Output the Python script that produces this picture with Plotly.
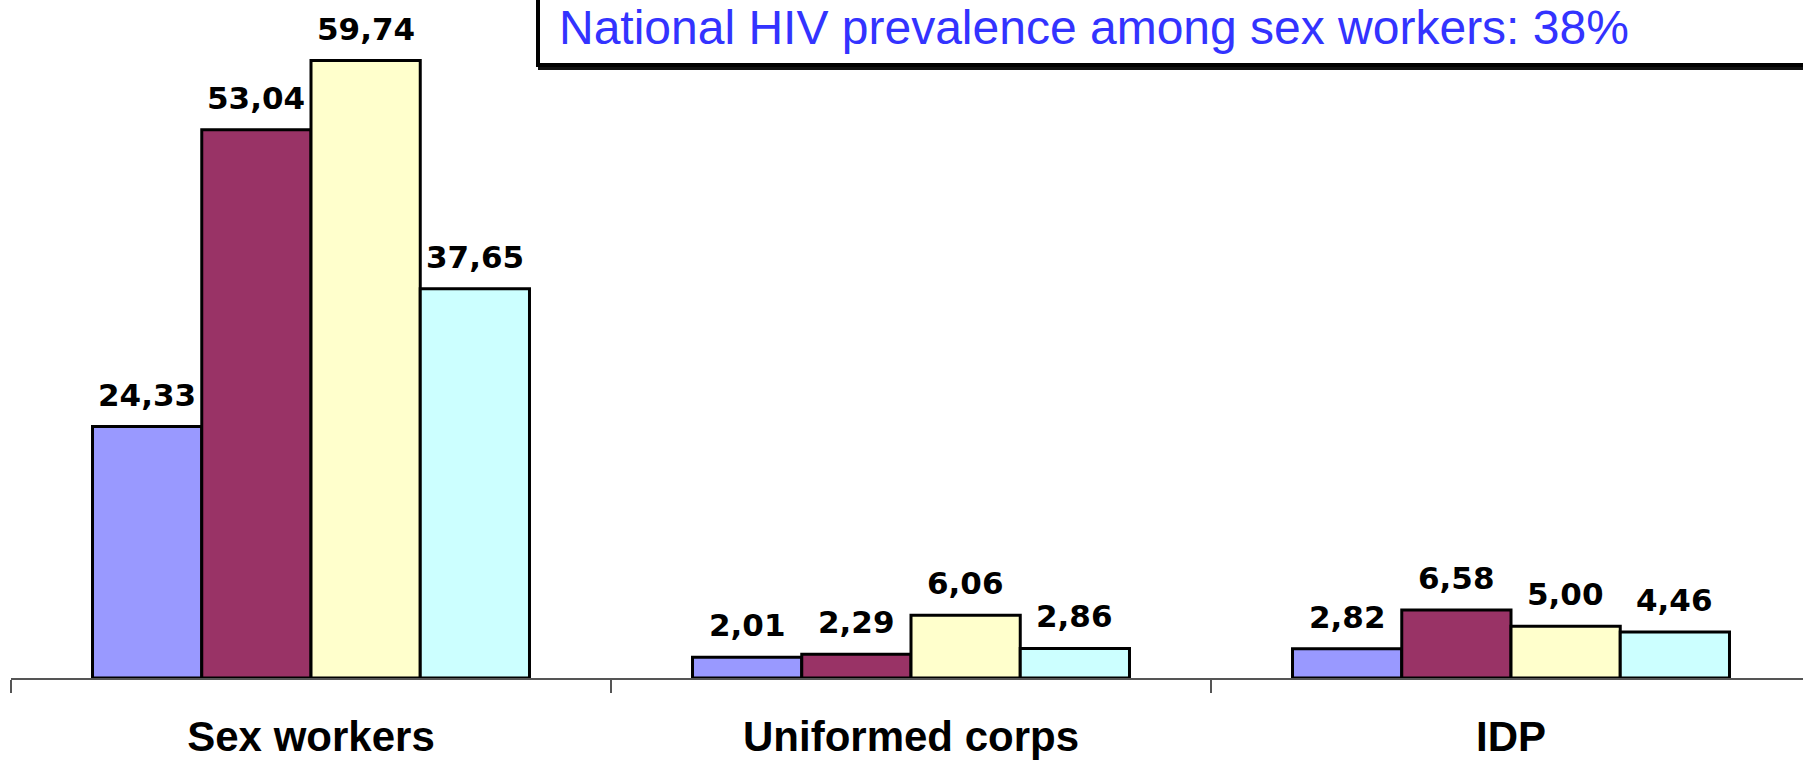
import plotly.graph_objects as go

categories = ["Sex workers", "Uniformed corps", "IDP"]
series_a = [24.33, 2.01, 2.82]
series_b = [53.04, 2.29, 6.58]
series_c = [59.74, 6.06, 5.00]
series_d = [37.65, 2.86, 4.46]
all_series = [series_a, series_b, series_c, series_d]
colors = ["#9999FF", "#993366", "#FFFFCC", "#CCFFFF"]
note_text = "National HIV prevalence among sex workers: 38%"

W, H = 1803, 764
ML, MR, MT, MB = 11, 0, 0, 86
BARGAP = 0.2717
YMAX = 65.6
cat_px = 600.0
plot_w = W - ML - MR
plot_h = H - MT - MB

fig = go.Figure()
for j, vals in enumerate(all_series):
    fig.add_trace(go.Bar(
        x=categories, y=vals,
        marker=dict(color=colors[j], line=dict(color="black", width=3)),
        showlegend=False, hoverinfo="skip",
    ))

# value labels
bw = (1 - BARGAP) / len(all_series)
annotations = []
for j, vals in enumerate(all_series):
    for i, v in enumerate(vals):
        annotations.append(dict(
            x=i + (j - (len(all_series) - 1) / 2) * bw, y=v, xref="x", yref="y",
            text=f"{v:.2f}".replace(".", ","), showarrow=False,
            yanchor="bottom", xanchor="center", yshift=12,
            font=dict(family="DejaVu Sans", size=31, color="black", weight="bold"),
        ))

# note box
def px_x(p):
    return (p - ML) / plot_w

def px_y(p):
    return (H - MB - p) / plot_h

annotations.append(dict(
    x=px_x(557), y=px_y(27.5), xref="paper", yref="paper",
    text=note_text, showarrow=False, xanchor="left", yanchor="middle",
    font=dict(family="Liberation Sans, Arial", size=48, color="#3333FF"),
))

shapes = [
    dict(type="rect", xref="paper", yref="paper",
         x0=px_x(540), x1=px_x(1900), y0=px_y(68), y1=px_y(-20),
         line=dict(color="#111111", width=4), layer="above"),
    dict(type="rect", xref="paper", yref="paper",
         x0=px_x(538), x1=px_x(1900), y0=px_y(65), y1=px_y(-20),
         line=dict(color="black", width=4), fillcolor="white", layer="above"),
]

fig.update_layout(
    width=W, height=H,
    margin=dict(l=ML, r=MR, t=MT, b=MB, autoexpand=False),
    paper_bgcolor="white", plot_bgcolor="white",
    barmode="group", bargap=BARGAP, bargroupgap=0,
    xaxis=dict(
        range=[-0.5, -0.5 + plot_w / cat_px],
        automargin=False,
        showline=True, linecolor="#555555", linewidth=1.5,
        ticks="outside", tickson="boundaries", ticklen=13, tickcolor="#555555", tickwidth=1.5,
        ticklabelstandoff=21,
        tickfont=dict(family="Liberation Sans, Arial", size=42, color="black", weight="bold"),
        showgrid=False, zeroline=False, fixedrange=True,
    ),
    yaxis=dict(range=[0, YMAX], visible=False, automargin=False,
               showgrid=False, zeroline=False),
    annotations=annotations,
    shapes=shapes,
)

fig.write_html(
    "out.html",
    config={"displayModeBar": False, "staticPlot": True},
    post_script="document.body.style.margin='0';document.body.style.overflow='hidden';",
)
